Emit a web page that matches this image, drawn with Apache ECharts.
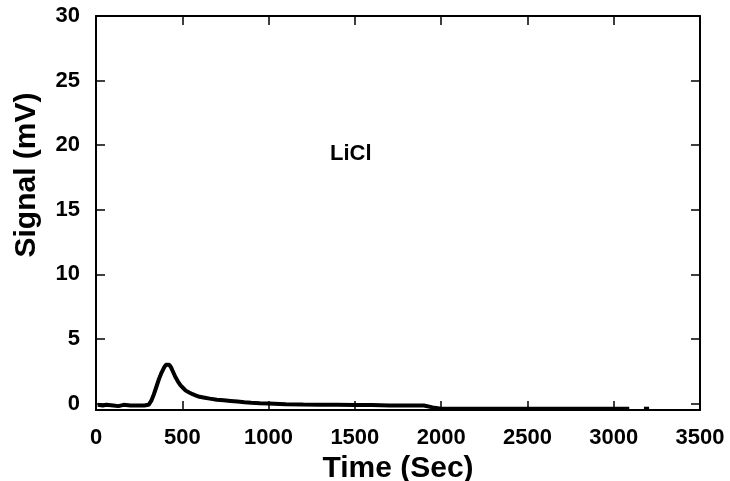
<!DOCTYPE html>
<html><head><meta charset="utf-8">
<script src="https://cdn.jsdelivr.net/npm/echarts@6/dist/echarts.min.js"></script>
<style>html,body{margin:0;padding:0;background:#fff}#c{width:730px;height:481px}</style>
</head><body><div id="c"></div>
<script>
const timeMain = [10,40,60,100,130,160,200,240,280,305,320,335,350,365,380,395,405,415,425,435,445,460,475,490,505,520,540,560,580,600,630,660,700,740,780,820,860,900,950,1000,1100,1200,1300,1400,1500,1600,1700,1800,1900,1950,2000,2200,2400,2600,2800,3000,3090];
const signalMain = [-0.1,-0.15,-0.1,-0.15,-0.2,-0.1,-0.15,-0.15,-0.15,-0.1,0.2,0.7,1.3,1.9,2.4,2.8,3.0,3.05,3.0,2.8,2.5,2.05,1.7,1.4,1.2,1.0,0.85,0.72,0.62,0.52,0.45,0.38,0.3,0.25,0.2,0.15,0.1,0.06,0.02,0.0,-0.05,-0.08,-0.1,-0.1,-0.12,-0.12,-0.15,-0.15,-0.15,-0.3,-0.4,-0.4,-0.4,-0.4,-0.4,-0.4,-0.4];
const timeTail = [3175,3205];
const signalTail = [-0.4,-0.4];
const xTicks = [0,500,1000,1500,2000,2500,3000,3500];
const yTicks = [0,5,10,15,20,25,30];
const annotation = 'LiCl';

const font = 'Liberation Sans, Arial, sans-serif';
const lineStyle = {color:'#000', width:2};
const tickStyle = {color:'#000', width:1.5};
const chart = echarts.init(document.getElementById('c'));
const mainData = timeMain.map((t,i)=>[t,signalMain[i]]);
const tailData = timeTail.map((t,i)=>[t,signalTail[i]]);
const labelFont = {color:'#000',fontFamily:font,fontWeight:'bold',fontSize:22};
const nameFont = {color:'#000',fontFamily:font,fontWeight:'bold',fontSize:30};
chart.setOption({
  animation:false,
  grid:{left:96,right:30,top:16,bottom:71,outerBoundsMode:'none',containLabel:false},
  xAxis:[{
    type:'value',min:0,max:3500,
    axisLine:{onZero:false,lineStyle:lineStyle},
    axisTick:{inside:true,length:9,customValues:xTicks,lineStyle:tickStyle},
    splitLine:{show:false},
    axisLabel:Object.assign({customValues:xTicks,margin:17,formatter:v=>String(v)},labelFont),
    name:'Time (Sec)',nameLocation:'middle',nameGap:42,
    nameTextStyle:nameFont
  },{
    type:'value',min:0,max:3500,position:'top',
    axisLine:{onZero:false,lineStyle:lineStyle},
    axisTick:{inside:true,length:9,customValues:xTicks,lineStyle:tickStyle},
    axisLabel:{show:false},splitLine:{show:false}
  }],
  yAxis:[{
    type:'value',min:-0.5,max:30,
    axisLine:{onZero:false,lineStyle:lineStyle},
    axisTick:{inside:true,length:9,customValues:yTicks,lineStyle:tickStyle},
    splitLine:{show:false},
    axisLabel:Object.assign({customValues:yTicks,margin:16,formatter:v=>String(v)},labelFont),
    name:'Signal (mV)',nameLocation:'middle',nameGap:54,
    nameTextStyle:Object.assign({padding:[0,0,0,76]},nameFont)
  },{
    type:'value',min:-0.5,max:30,position:'right',
    axisLine:{onZero:false,lineStyle:lineStyle},
    axisTick:{inside:true,length:9,customValues:yTicks,lineStyle:tickStyle},
    axisLabel:{show:false},splitLine:{show:false}
  }],
  series:[{
    type:'line',data:mainData,showSymbol:false,xAxisIndex:0,yAxisIndex:0,
    lineStyle:{color:'#000',width:4}
  },{
    type:'line',data:tailData,showSymbol:false,
    lineStyle:{color:'#000',width:4}
  }],
  graphic:[{type:'text',left:330,top:143,style:{text:annotation,fill:'#000',font:'bold 22px '+font}}]
});
</script></body></html>
